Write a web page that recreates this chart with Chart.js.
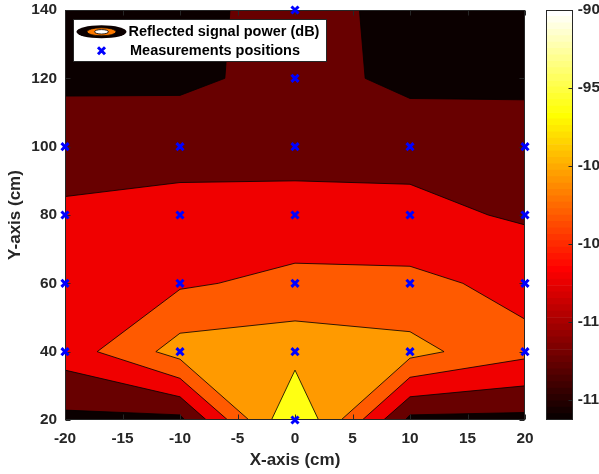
<!DOCTYPE html>
<html>
<head>
<meta charset="utf-8">
<script src="https://cdn.jsdelivr.net/npm/chart.js@4.4.1/dist/chart.umd.min.js"></script>
<style>
  html, body { margin: 0; padding: 0; background: #ffffff; }
  #wrap { position: relative; width: 599px; height: 474px; overflow: hidden; background: #ffffff; }
  #main { position: absolute; left: 0; top: 0; }
  #cbar { position: absolute; left: 530px; top: 0; }
</style>
</head>
<body>
<div id="wrap">
  <canvas id="main" width="599" height="474"></canvas>
  <canvas id="cbar" width="69" height="474"></canvas>
</div>
<script>
// ---------------- DATA ----------------
// Axis ticks (cm)
const xTickValues = [-20, -15, -10, -5, 0, 5, 10, 15, 20];
const yTickValues = [20, 40, 60, 80, 100, 120, 140];

// Filled contour regions (superlevel sets), [x cm, y cm].
// Each region contains all regions after it.
const regionLevel1 = [[-20, 20], [-20, 140], [20, 140], [20, 20]];
const regionLevel2 = [[-20, 22.9], [-20, 114.8], [-10, 115], [-6.1, 120], [-5.65, 140], [5.6, 140],
                      [6.1, 120], [10, 114.1], [20, 113.7], [20, 22.2], [10, 21.5], [9.57, 20],
                      [-9.57, 20], [-10, 21.5]];
const regionLevel3 = [[-20, 34.6], [-20, 85.4], [-10, 89.5], [0, 90], [10, 89], [16.8, 80],
                      [20, 77.1], [20, 30.0], [10, 26.8], [7.7, 20], [-7.7, 20], [-10, 26.8]];
const regionLevel4 = [[-17.2, 40], [-10, 58.25], [-6.67, 60], [0, 65.9], [10, 65], [14.6, 60],
                      [20, 49.5], [20, 37.9], [10, 32.5], [5.85, 20], [-5.85, 20], [-10, 32.2]];
const regionLevel5 = [[-12.1, 40], [-10, 45.4], [0, 49], [10, 45.85], [12.96, 40], [10, 38.1],
                      [4.0, 20], [-4.0, 20], [-10, 37.8]];
const regionLevel6 = [[-2.05, 20], [0, 34.6], [2.05, 20]];

// Measurement positions (cm)
const measX = [0, -20, -10, 0, 10, 20, -20, -10, 0, 10, 20, -20, -10, 0, 10, 20, -20, -10, 0, 10, 20, 0, 0];
const measY = [20, 40, 40, 40, 40, 40, 60, 60, 60, 60, 60, 80, 80, 80, 80, 80, 100, 100, 100, 100, 100, 120, 140];

// Colorbar (dB)
const cbarMin = -116.3;
const cbarMax = -90;
const cbarTickValues = [-115, -110, -105, -100, -95, -90];
const cbarSteps = 64;

// Text
const xTitle = 'X-axis (cm)';
const yTitle = 'Y-axis (cm)';
const legendLabels = ['Reflected signal power (dB)', 'Measurements positions'];

// ---------------- STYLE ----------------
const regionColors = ['#0b0000', '#680000', '#f00000', '#ff5a00', '#ff9a00', '#ffff12'];
const FONT = "'Liberation Sans', Arial, Helvetica, sans-serif";
const AXIS_COLOR = '#262626';
const tickFont = { family: FONT, size: 15.4, weight: 'bold' };
const titleFont = { family: FONT, size: 17, weight: 'bold' };

// ---------------- BUILD ----------------
const regions = [regionLevel1, regionLevel2, regionLevel3, regionLevel4, regionLevel5, regionLevel6];
const closed = pts => pts.concat([pts[0]]).map(([x, y]) => ({ x, y }));

const datasets = regions.map((r, i) => ({
  type: 'line',
  label: 'level ' + (i + 1),
  data: closed(r),
  fill: 'shape',
  backgroundColor: regionColors[i],
  borderColor: '#000000',
  borderWidth: i === 0 ? 0 : 0.8,
  pointRadius: 0,
  pointHoverRadius: 0,
  tension: 0,
  order: 10 - i
}));
const TOP_REGION_INDEX = regions.length - 1;

datasets.push({
  type: 'scatter',
  label: legendLabels[1],
  data: measX.map((x, i) => ({ x, y: measY[i] })),
  showLine: false,
  pointStyle: 'crossRot',
  pointRadius: 5,
  pointHoverRadius: 5,
  pointBorderWidth: 3,
  borderColor: '#0000ff',
  backgroundColor: '#0000ff',
  clip: false,
  order: 0
});

const noPad = s => { s.paddingTop = 0; s.paddingBottom = 0; s.paddingLeft = 0; s.paddingRight = 0; };

// Frame + inward ticks on all four sides (MATLAB-like box)
const framePlugin = {
  id: 'frame',
  afterDatasetDraw(chart, args) {
    if (args.index !== TOP_REGION_INDEX) return;
    const { ctx, chartArea: a, scales } = chart;
    ctx.save();
    ctx.strokeStyle = AXIS_COLOR;
    ctx.lineWidth = 1;
    const L = Math.round(a.left) + 0.5, R = Math.round(a.right) - 0.5;
    const T = Math.round(a.top) + 0.5, B = Math.round(a.bottom) - 0.5;
    ctx.beginPath();
    scales.x.ticks.forEach(t => {
      const px = Math.round(scales.x.getPixelForValue(t.value)) + 0.5;
      ctx.moveTo(px, B); ctx.lineTo(px, B - 5);
      ctx.moveTo(px, T); ctx.lineTo(px, T + 5);
    });
    scales.y.ticks.forEach(t => {
      const py = Math.round(scales.y.getPixelForValue(t.value)) + 0.5;
      ctx.moveTo(L, py); ctx.lineTo(L + 5, py);
      ctx.moveTo(R, py); ctx.lineTo(R - 5, py);
    });
    ctx.stroke();
    ctx.strokeRect(L, T, R - L, B - T);
    ctx.restore();
  }
};

// Legend box inside the axes, top-left
const legendPlugin = {
  id: 'insideLegend',
  afterDraw(chart) {
    const { ctx, chartArea: a } = chart;
    const bx = Math.round(a.left) + 8.5, by = Math.round(a.top) + 9.5, bw = 253, bh = 42;
    ctx.save();
    ctx.fillStyle = '#ffffff';
    ctx.fillRect(bx, by, bw, bh);
    ctx.strokeStyle = AXIS_COLOR;
    ctx.lineWidth = 1;
    ctx.strokeRect(bx, by, bw, bh);

    // contour icon: concentric ellipses
    const cx = bx + 28, cy1 = by + 12.3;
    ctx.lineWidth = 0.8;
    ctx.strokeStyle = '#000000';
    ctx.fillStyle = '#0b0000';
    ctx.beginPath(); ctx.ellipse(cx, cy1, 25, 6.5, 0, 0, Math.PI * 2); ctx.fill();
    ctx.fillStyle = '#ff7a00';
    ctx.beginPath(); ctx.ellipse(cx, cy1, 14.5, 4, 0, 0, Math.PI * 2); ctx.fill(); ctx.stroke();
    ctx.fillStyle = '#ffffff';
    ctx.beginPath(); ctx.ellipse(cx, cy1, 7, 2.2, 0, 0, Math.PI * 2); ctx.fill(); ctx.stroke();

    // marker icon
    const cy2 = by + 31.2;
    ctx.strokeStyle = '#0000ff';
    ctx.lineWidth = 3;
    const d = 3.5;
    ctx.beginPath();
    ctx.moveTo(cx - d, cy2 - d); ctx.lineTo(cx + d, cy2 + d);
    ctx.moveTo(cx - d, cy2 + d); ctx.lineTo(cx + d, cy2 - d);
    ctx.stroke();

    ctx.fillStyle = '#000000';
    ctx.font = 'bold 14.5px ' + FONT;
    ctx.textBaseline = 'middle';
    ctx.textAlign = 'left';
    ctx.fillText(legendLabels[0], bx + 55, cy1);
    ctx.fillText(legendLabels[1], bx + 56.5, cy2);
    ctx.restore();
  }
};

new Chart(document.getElementById('main'), {
  type: 'scatter',
  data: { datasets },
  options: {
    responsive: false,
    animation: false,
    events: [],
    devicePixelRatio: 1,
    layout: { padding: { left: 0, top: 10, right: 74, bottom: 0 } },
    plugins: { legend: { display: false }, tooltip: { enabled: false } },
    scales: {
      x: {
        type: 'linear', min: -20, max: 20,
        afterBuildTicks: s => { s.ticks = xTickValues.map(v => ({ value: v })); },
        afterFit: s => { s.height = 54; noPad(s); },
        ticks: { color: AXIS_COLOR, font: tickFont, padding: 10, maxRotation: 0, autoSkip: false },
        grid: { display: false, drawTicks: false },
        border: { display: false },
        title: { display: true, text: xTitle, color: AXIS_COLOR, font: titleFont, padding: { top: 0, bottom: 3 } }
      },
      y: {
        type: 'linear', min: 20, max: 140,
        afterBuildTicks: s => { s.ticks = yTickValues.map(v => ({ value: v })); },
        afterFit: s => { s.width = 65; noPad(s); },
        ticks: { color: AXIS_COLOR, font: tickFont, padding: 8, autoSkip: false },
        grid: { display: false, drawTicks: false },
        border: { display: false },
        title: { display: true, text: yTitle, color: AXIS_COLOR, font: titleFont, padding: { top: 5, bottom: 0 } }
      }
    }
  },
  plugins: [framePlugin, legendPlugin]
});

// ---------------- COLORBAR ----------------
function hotColor(i) { // MATLAB 'hot' colormap, i = 1..cbarSteps
  const n1 = Math.floor(3 / 8 * cbarSteps), n2 = Math.floor(3 / 8 * cbarSteps);
  const r = Math.min(i / n1, 1);
  const g = Math.min(Math.max((i - n1) / n2, 0), 1);
  const b = Math.min(Math.max((i - n1 - n2) / (cbarSteps - n1 - n2), 0), 1);
  return `rgb(${Math.round(r * 255)},${Math.round(g * 255)},${Math.round(b * 255)})`;
}
const cbDatasets = [];
for (let i = 0; i < cbarSteps; i++) {
  const lo = cbarMin + (cbarMax - cbarMin) * i / cbarSteps;
  const hi = cbarMin + (cbarMax - cbarMin) * (i + 1) / cbarSteps;
  cbDatasets.push({
    data: [[lo, hi]],
    backgroundColor: hotColor(i + 1),
    borderWidth: 0,
    barPercentage: 1,
    categoryPercentage: 1,
    grouped: false
  });
}

const cbarFramePlugin = {
  id: 'cbarFrame',
  afterDatasetsDraw(chart) {
    const { ctx, chartArea: a, scales } = chart;
    ctx.save();
    ctx.strokeStyle = AXIS_COLOR;
    ctx.lineWidth = 1;
    const L = Math.round(a.left) + 0.5, R = Math.round(a.right) - 0.5;
    const T = Math.round(a.top) + 0.5, B = Math.round(a.bottom) - 0.5;
    ctx.beginPath();
    scales.y.ticks.forEach(t => {
      const py = Math.round(scales.y.getPixelForValue(t.value)) + 0.5;
      ctx.moveTo(R, py); ctx.lineTo(R - 4, py);
    });
    ctx.stroke();
    ctx.strokeRect(L, T, R - L, B - T);
    ctx.restore();
  }
};

new Chart(document.getElementById('cbar'), {
  type: 'bar',
  data: { labels: [''], datasets: cbDatasets },
  options: {
    responsive: false,
    animation: false,
    events: [],
    devicePixelRatio: 1,
    layout: { padding: { left: 16, top: 10, right: 0, bottom: 54 } },
    plugins: { legend: { display: false }, tooltip: { enabled: false } },
    scales: {
      x: { type: 'category', display: false },
      y: {
        type: 'linear', position: 'right', min: cbarMin, max: cbarMax,
        afterBuildTicks: s => { s.ticks = cbarTickValues.map(v => ({ value: v })); },
        afterFit: s => { s.width = 26.3; noPad(s); },
        ticks: { color: AXIS_COLOR, font: tickFont, padding: 5, autoSkip: false },
        grid: { display: false, drawTicks: false },
        border: { display: false }
      }
    }
  },
  plugins: [cbarFramePlugin]
});
</script>
</body>
</html>
